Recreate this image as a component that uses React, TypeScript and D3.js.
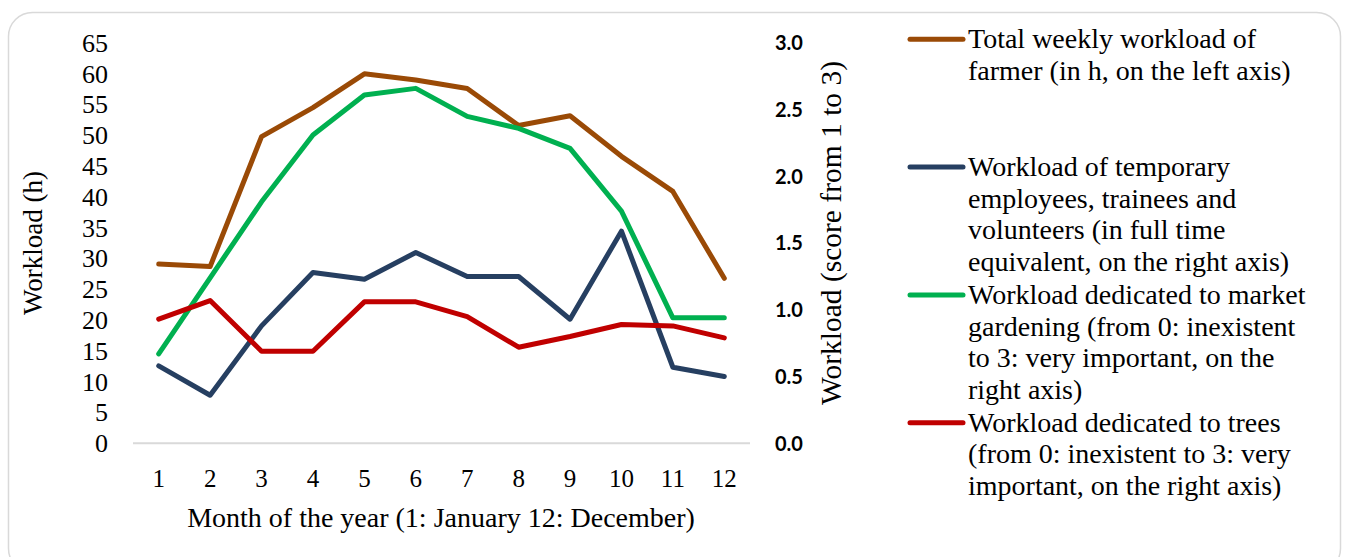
import React, { useEffect, useRef } from "react";
import * as d3 from "d3";

// months on the x axis
const months = [1, 2, 3, 4, 5, 6, 7, 8, 9, 10, 11, 12];

// left axis (h)
const farmerHours = [29.1, 28.7, 49.8, 54.5, 60.0, 59.0, 57.6, 51.6, 53.2, 46.6, 40.9, 26.8];

// right axis (score 0-3)
const temporaryStaff = [0.58, 0.36, 0.88, 1.28, 1.23, 1.43, 1.25, 1.25, 0.93, 1.59, 0.57, 0.5];
const marketGardening = [0.67, 1.24, 1.81, 2.31, 2.61, 2.66, 2.45, 2.36, 2.21, 1.74, 0.94, 0.94];
const trees = [0.93, 1.07, 0.69, 0.69, 1.06, 1.06, 0.95, 0.72, 0.8, 0.89, 0.88, 0.79];

const leftTicks = [0, 5, 10, 15, 20, 25, 30, 35, 40, 45, 50, 55, 60, 65];
const rightTicks = [0, 0.5, 1, 1.5, 2, 2.5, 3];

const legendLabels = [
  ["Total weekly workload of", "farmer (in h, on the left axis)"],
  ["Workload of temporary", "employees, trainees and", "volunteers (in full time", "equivalent, on the right axis)"],
  ["Workload dedicated to market", "gardening (from 0: inexistent", "to 3: very important, on the", "right axis)"],
  ["Workload dedicated to trees", "(from 0: inexistent to 3: very", "important, on the right axis)"],
];

const colors = ["#9a4a06", "#263f61", "#00b050", "#c00000"];

const serif = "'Liberation Serif', serif";

const App = () => {
  const ref = useRef(null);

  useEffect(() => {
    const svg = d3.select(ref.current);
    svg.selectAll("*").remove();

    const x = d3.scalePoint().domain(months).range([133, 750]).padding(0.5);
    const yLeft = d3.scaleLinear().domain([0, 65]).range([443.3, 43]);
    const yRight = d3.scaleLinear().domain([0, 3]).range([443.3, 43]);

    // frame
    svg.append("rect")
      .attr("x", 8.5).attr("y", 12.5)
      .attr("width", 1332).attr("height", 560)
      .attr("rx", 24)
      .attr("fill", "white")
      .attr("stroke", "#d9d9d9")
      .attr("stroke-width", 1.5);

    // baseline
    svg.append("line")
      .attr("x1", 133).attr("x2", 750)
      .attr("y1", yLeft(0)).attr("y2", yLeft(0))
      .attr("stroke", "#d9d9d9")
      .attr("stroke-width", 2);

    // left ticks
    svg.append("g")
      .selectAll("text")
      .data(leftTicks)
      .join("text")
      .attr("x", 108)
      .attr("y", d => yLeft(d))
      .attr("dy", "0.34em")
      .attr("text-anchor", "end")
      .style("font-family", serif)
      .style("font-size", "26px")
      .text(d => d);

    // right ticks
    svg.append("g")
      .selectAll("text")
      .data(rightTicks)
      .join("text")
      .attr("x", 775)
      .attr("y", d => yRight(d))
      .attr("dy", "0.36em")
      .style("font-family", "Lato, 'Liberation Sans', sans-serif")
      .style("font-weight", "bold")
      .style("font-size", "20px")
      .text(d => d3.format(".1f")(d));

    // x ticks
    svg.append("g")
      .selectAll("text")
      .data(months)
      .join("text")
      .attr("x", d => x(d))
      .attr("y", 487)
      .attr("text-anchor", "middle")
      .style("font-family", serif)
      .style("font-size", "25px")
      .text(d => d);

    // axis titles
    svg.append("text")
      .attr("x", 441).attr("y", 527)
      .attr("text-anchor", "middle")
      .style("font-family", serif)
      .style("font-size", "28px")
      .text("Month of the year (1: January 12: December)");

    svg.append("text")
      .attr("transform", "translate(42,243) rotate(-90)")
      .attr("text-anchor", "middle")
      .style("font-family", serif)
      .style("font-size", "27px")
      .text("Workload (h)");

    svg.append("text")
      .attr("transform", "translate(841,233) rotate(-90)")
      .attr("text-anchor", "middle")
      .style("font-family", serif)
      .style("font-size", "29.5px")
      .text("Workload (score from 1 to 3)");

    // series
    const series = [
      { values: farmerHours, y: yLeft },
      { values: temporaryStaff, y: yRight },
      { values: marketGardening, y: yRight },
      { values: trees, y: yRight },
    ];

    series.forEach((s, i) => {
      const line = d3.line<number>()
        .x((d, j) => x(months[j]))
        .y(d => s.y(d));
      svg.append("path")
        .datum(s.values)
        .attr("d", line)
        .attr("fill", "none")
        .attr("stroke", colors[i])
        .attr("stroke-width", 5)
        .attr("stroke-linejoin", "round")
        .attr("stroke-linecap", "round");
    });

    // legend
    const legend = svg.append("g");
    legendLabels.forEach((lines, i) => {
      const base = 48.3 + i * 127.8;
      legend.append("line")
        .attr("x1", 910).attr("x2", 963)
        .attr("y1", base - 9).attr("y2", base - 9)
        .attr("stroke", colors[i])
        .attr("stroke-width", 5)
        .attr("stroke-linecap", "round");
      legend.append("g")
        .selectAll("text")
        .data(lines)
        .join("text")
        .attr("x", 968)
        .attr("y", (d, j) => base + j * 31.6)
        .style("font-family", serif)
        .style("font-size", "28px")
        .text(d => d);
    });
  }, []);

  return (
    <svg
      ref={ref}
      width={1349}
      height={557}
      style={{ position: "absolute", left: 0, top: 0, background: "white" }}
    />
  );
};

export default App;
